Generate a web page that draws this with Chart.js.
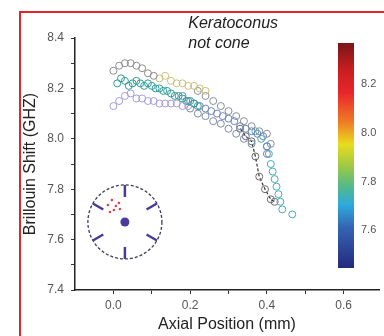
<!DOCTYPE html>
<html>
<head>
<meta charset="utf-8">
<script src="https://cdn.jsdelivr.net/npm/chart.js@4"></script>
<style>
  html, body { margin: 0; padding: 0; background: #fff; }
  #wrap { position: relative; width: 384px; height: 336px; overflow: hidden; }
  #frame { position: absolute; left: 19px; top: 11px; right: -4px; bottom: -4px;
           border-left: 2px solid #e0262b; border-top: 2px solid #e0262b; pointer-events: none; }
</style>
</head>
<body>
<div id="wrap">
  <canvas id="chart" width="384" height="336"></canvas>
  <div id="frame"></div>
</div>
<script>
// tick values
const xTickVals = [0, 0.1, 0.2, 0.3, 0.4, 0.5, 0.6];
const yTickVals = [7.4, 7.5, 7.6, 7.7, 7.8, 7.9, 8.0, 8.1, 8.2, 8.3, 8.4];
const cbTicks = [7.6, 7.8, 8.0, 8.2];
const cbRange = [7.445, 8.37];

// measured series (axial position mm, Brillouin shift GHz)
const grayTopX = [0.00, 0.015, 0.03, 0.045, 0.06, 0.075, 0.09, 0.105];
const grayTopY = [8.27, 8.29, 8.30, 8.30, 8.29, 8.28, 8.26, 8.25];

const yellowX = [0.12, 0.135, 0.15, 0.165, 0.18, 0.195, 0.21, 0.225, 0.24];
const yellowY = [8.24, 8.25, 8.23, 8.22, 8.22, 8.21, 8.21, 8.20, 8.19];

const tealX = [0.01, 0.02, 0.03, 0.04, 0.05, 0.06, 0.07, 0.08, 0.09, 0.10, 0.11,
               0.12, 0.13, 0.14, 0.15, 0.16, 0.17, 0.18, 0.19, 0.20, 0.21, 0.22];
const tealY = [8.22, 8.24, 8.23, 8.21, 8.22, 8.23, 8.22, 8.21, 8.22, 8.21, 8.20,
               8.20, 8.19, 8.19, 8.18, 8.17, 8.17, 8.16, 8.15, 8.15, 8.14, 8.13];

const lavenderX = [0.00, 0.015, 0.03, 0.045, 0.06, 0.075, 0.09, 0.105, 0.12, 0.135, 0.15, 0.165, 0.18, 0.195];
const lavenderY = [8.13, 8.15, 8.17, 8.18, 8.16, 8.16, 8.15, 8.15, 8.14, 8.14, 8.14, 8.14, 8.13, 8.13];

const blueGrayX = [0.18, 0.195, 0.21, 0.225, 0.24, 0.255, 0.27, 0.285, 0.30, 0.315, 0.33, 0.345, 0.36, 0.375, 0.39, 0.40, 0.40];
const blueGrayY = [8.17, 8.15, 8.14, 8.13, 8.12, 8.11, 8.10, 8.09, 8.08, 8.07, 8.05, 8.04, 8.03, 8.02, 8.01, 7.97, 7.94];

const grayUpperX = [0.22, 0.24, 0.26, 0.28, 0.30, 0.32, 0.34, 0.36, 0.38, 0.40, 0.41];
const grayUpperY = [8.19, 8.17, 8.15, 8.13, 8.11, 8.09, 8.07, 8.05, 8.03, 8.02, 7.98];

const grayLowerX = [0.20, 0.22, 0.24, 0.26, 0.28, 0.30, 0.32, 0.34, 0.36];
const grayLowerY = [8.12, 8.10, 8.09, 8.07, 8.06, 8.04, 8.02, 8.00, 7.98];

const cyanX = [0.37, 0.385, 0.40, 0.405, 0.41, 0.415, 0.42, 0.425, 0.43, 0.435, 0.44, 0.466];
const cyanY = [8.03, 8.00, 7.97, 7.94, 7.90, 7.87, 7.84, 7.81, 7.78, 7.75, 7.72, 7.70];

const darkX = [0.33, 0.345, 0.36, 0.37, 0.38, 0.395, 0.41, 0.42];
const darkY = [8.04, 8.01, 7.99, 7.93, 7.85, 7.80, 7.76, 7.75];

// inset (en face map) position in data units
const insetCenter = [0.03, 7.67];
const insetSpots = [[-17, -17], [-13, -22], [-9, -16], [-11, -12], [-6, -19], [-15, -10], [-5, -13]];

function pts(xs, ys) {
    return xs.map((x, i) => ({ x: x, y: ys[i] }));
}

function series(xs, ys, color, extra) {
    return Object.assign({
        data: pts(xs, ys),
        borderColor: color,
        backgroundColor: "rgba(255,255,255,0)",
        pointBorderColor: color,
        pointBorderWidth: 1,
        pointRadius: 3.5,
        showLine: false,
    }, extra || {});
}

const extras = {
    id: "extras",
    afterDraw(chart) {
        const c = chart.ctx;
        const a = chart.chartArea;
        const xs = chart.scales.x;
        const ys = chart.scales.y;

        // colorbar
        const bx = a.right - 41, bw = 16, bt = a.top + 5, bb = a.bottom - 22;
        const g = c.createLinearGradient(0, bt, 0, bb);
        g.addColorStop(0, "#7a1416");
        g.addColorStop(0.12, "#c81e22");
        g.addColorStop(0.22, "#e8262a");
        g.addColorStop(0.35, "#f07a24");
        g.addColorStop(0.45, "#e8dc1e");
        g.addColorStop(0.55, "#9cc846");
        g.addColorStop(0.64, "#52b88c");
        g.addColorStop(0.72, "#2eaadc");
        g.addColorStop(0.82, "#3464b4");
        g.addColorStop(1, "#252a7c");
        c.fillStyle = g;
        c.fillRect(bx, bt, bw, bb - bt);
        c.fillStyle = "#555";
        c.font = "11px 'Liberation Sans', Arial, sans-serif";
        c.textBaseline = "middle";
        c.textAlign = "left";
        cbTicks.forEach((v) => {
            const y = bb - (v - cbRange[0]) / (cbRange[1] - cbRange[0]) * (bb - bt);
            c.fillText(v.toFixed(1), bx + bw + 7, y);
        });

        // annotation
        c.fillStyle = "#222";
        c.font = "italic 16px 'Liberation Sans', Arial, sans-serif";
        c.textBaseline = "middle";
        const tx = xs.getPixelForValue(0.195);
        c.fillText("Keratoconus", tx, a.top - 14);
        c.fillText("not cone", tx, a.top + 6);

        // inset map
        const cx = xs.getPixelForValue(insetCenter[0]);
        const cy = ys.getPixelForValue(insetCenter[1]);
        const r = 37;
        c.save();
        c.setLineDash([3, 2]);
        c.strokeStyle = "#3c3c58";
        c.lineWidth = 1.3;
        c.beginPath();
        c.arc(cx, cy, r, 0, Math.PI * 2);
        c.stroke();
        c.setLineDash([]);
        c.strokeStyle = "#4a3a94";
        c.lineWidth = 2.5;
        [30, 90, 150, 210, 270, 330].forEach((deg) => {
            const t = deg * Math.PI / 180;
            c.beginPath();
            c.moveTo(cx + Math.cos(t) * (r - 12), cy - Math.sin(t) * (r - 12));
            c.lineTo(cx + Math.cos(t) * r, cy - Math.sin(t) * r);
            c.stroke();
        });
        c.fillStyle = "#4b3a9c";
        c.beginPath();
        c.arc(cx, cy, 4.5, 0, Math.PI * 2);
        c.fill();
        c.fillStyle = "#e0404e";
        insetSpots.forEach((s) => {
            c.beginPath();
            c.arc(cx + s[0], cy + s[1], 1.3, 0, Math.PI * 2);
            c.fill();
        });
        c.restore();
    },
};

const tickFont = { family: "'Liberation Sans', Arial, sans-serif", size: 12 };
const titleFont = { family: "'Liberation Sans', Arial, sans-serif", size: 16 };

new Chart(document.getElementById("chart"), {
    type: "scatter",
    data: {
        datasets: [
            series(lavenderX, lavenderY, "#a79cd6"),
            series(grayTopX, grayTopY, "#8c8c8c"),
            series(yellowX, yellowY, "#c9c07a"),
            series(tealX, tealY, "#2f9c94"),
            series(grayLowerX, grayLowerY, "#7a8aa8"),
            series(blueGrayX, blueGrayY, "#6f86b8"),
            series(grayUpperX, grayUpperY, "#8a8f9a"),
            series(cyanX, cyanY, "#45aabb"),
            series(darkX, darkY, "#6a6a6a", { showLine: true, borderColor: "#333", borderWidth: 1.2, borderDash: [3, 2] }),
        ],
    },
    options: {
        responsive: false,
        animation: false,
        layout: { padding: { top: 38, right: 0, left: 0, bottom: 0 } },
        plugins: { legend: { display: false }, tooltip: { enabled: false } },
        scales: {
            x: {
                type: "linear",
                min: -0.1,
                max: 0.692,
                afterBuildTicks: (axis) => { axis.ticks = xTickVals.map((v) => ({ value: v })); },
                afterFit: (axis) => { axis.height = 46; },
                grid: { drawOnChartArea: false, tickLength: 4, tickColor: "#333" },
                border: { color: "#222", width: 1.5 },
                ticks: {
                    autoSkip: false,
                    color: "#555",
                    font: tickFont,
                    padding: 4,
                    maxRotation: 0,
                    callback: (v) => (Math.round(v * 10) % 2 === 0 ? v.toFixed(1) : ""),
                },
                title: { display: true, text: "Axial Position (mm)", color: "#222", font: titleFont, padding: { top: 0, bottom: 2 } },
            },
            y: {
                min: 7.4,
                max: 8.4,
                afterBuildTicks: (axis) => { axis.ticks = yTickVals.map((v) => ({ value: v })); },
                afterFit: (axis) => { axis.width = 75; },
                grid: { drawOnChartArea: false, tickLength: 4, tickColor: "#333" },
                border: { color: "#222", width: 1.5 },
                ticks: {
                    autoSkip: false,
                    color: "#555",
                    font: tickFont,
                    padding: 7,
                    callback: (v) => (Math.round(v * 10) % 2 === 0 ? v.toFixed(1) : ""),
                },
                title: { display: true, text: "Brillouin Shift (GHZ)", color: "#222", font: titleFont, padding: { top: 21, bottom: 0 } },
            },
        },
    },
    plugins: [extras],
});
</script>
</body>
</html>
